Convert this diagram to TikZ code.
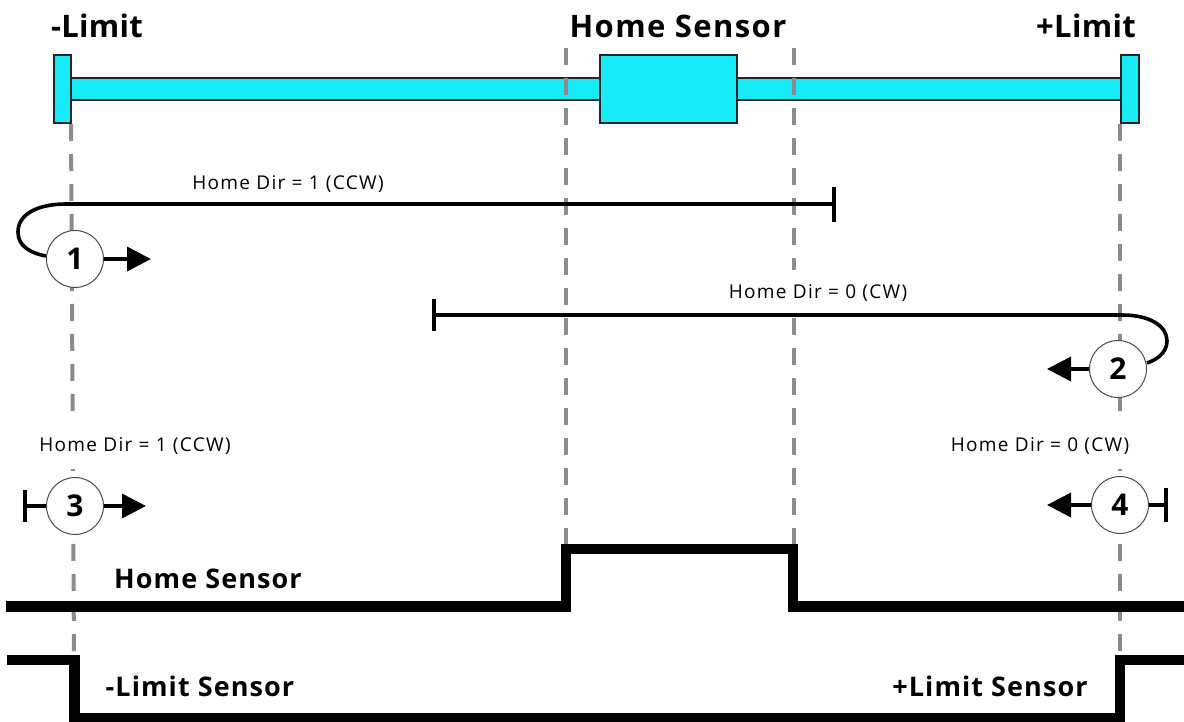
\documentclass[tikz,border=0pt]{standalone}
\usepackage{fontspec}
\setmainfont{Open Sans}
\usetikzlibrary{arrows.meta}
\definecolor{barcyan}{HTML}{17EBF7}
\definecolor{dashgray}{HTML}{8C8C8C}
\tikzset{
  x=1pt,y=-1pt,
  barbox/.style={draw=black!85,line width=1.3pt,fill=barcyan,inner sep=0pt},
  guide/.style={draw=dashgray,line width=4pt,dash pattern=on 17pt off 13pt},
  signal/.style={draw=black,line width=10.5pt,miter limit=10},
  path1/.style={draw=black,line width=3.6pt},
  tick/.style={draw=black,line width=3.6pt},
  move/.style={draw=black,line width=3.6pt,-{Triangle[length=24pt,width=24pt]}},
  num/.style={circle,draw=black!70,line width=1pt,fill=white,minimum size=57pt,inner sep=0pt,font=\fontsize{30}{30}\selectfont\bfseries},
  biglabel/.style={inner sep=0pt,font=\fontsize{31}{31}\selectfont\bfseries\addfontfeature{LetterSpace=4.5}},
  limlabel/.style={inner sep=0pt,font=\fontsize{31}{31}\selectfont\bfseries\addfontfeature{LetterSpace=1}},
  midlabel/.style={inner sep=0pt,font=\fontsize{27}{27}\selectfont\bfseries\addfontfeature{LetterSpace=4}},
  small/.style={inner sep=0pt,fill=white,minimum height=46pt,font=\fontsize{19}{19}\selectfont\addfontfeature{LetterSpace=7}},
}
\begin{document}
\begin{tikzpicture}
\useasboundingbox (0,0) rectangle (1184,722);
% guides
\coordinate (ga) at (71,124); \coordinate (gb) at (74,660);
\coordinate (gc) at (566,48); \coordinate (gd) at (566,545);
\coordinate (ge) at (794,48); \coordinate (gf) at (794,545);
\coordinate (gg) at (1120,124); \coordinate (gh) at (1120,655);
% bar
\node[barbox,minimum width=1050pt,minimum height=22pt] (rod) at (595.5,89) {};
\node[barbox,minimum width=17pt,minimum height=68pt] (stopL) at (62.5,89) {};
\node[barbox,minimum width=18pt,minimum height=68pt] (stopR) at (1130,89) {};
\draw[guide] (gc) -- (gd);
\draw[guide] (ge) -- (gf);
\draw[guide] (ga) -- (gb);
\draw[guide] (gg) -- (gh);
\node[barbox,minimum width=137pt,minimum height=68pt] (carriage) at (668.5,89) {};
% labels
\node[limlabel] (lm) at (97,26) {-Limit};
\node[biglabel] (hs) at (678,26) {Home Sensor};
\node[limlabel] (lp) at (1086,26) {+Limit};
\node[small] (t1) at (288,184) {Home Dir = 1 (CCW)};
\node[small] (t2) at (818,293) {Home Dir = 0 (CW)};
\node[small] (t3) at (135,446) {Home Dir = 1 (CCW)};
\node[small] (t4) at (1040,446) {Home Dir = 0 (CW)};
% numbered circles
\node[num] (n1) at (75,259) {1};
\node[num] (n2) at (1118,369) {2};
\node[num] (n3) at (75,506) {3};
\node[num] (n4) at (1120,505) {4};
% tracks
\coordinate (e1) at (834,204); \coordinate (e1a) at (834,187); \coordinate (e1b) at (834,222);
\coordinate (e2) at (434,315); \coordinate (e2a) at (434,299); \coordinate (e2b) at (434,331);
\draw[path1] (e1) -- (66,204) .. controls (38,204) and (18,214) .. (18,232) .. controls (18,246) and (30,253) .. (n1.west |- 0,256);
\draw[tick] (e1a) -- (e1b);
\draw[path1] (e2) -- (1122,315) .. controls (1150,315) and (1167,326) .. (1167,341) .. controls (1167,353) and (1156,360) .. (n2.east |- 0,363);
\draw[tick] (e2a) -- (e2b);
\coordinate (a1) at (151,259); \coordinate (a2) at (1047,369);
\coordinate (a3) at (146,506); \coordinate (a4) at (1047,505);
\draw[move] (n1.east) -- (a1);
\draw[move] (n2.west) -- (a2);
\draw[move] (n3.east) -- (a3);
\draw[move] (n4.west) -- (a4);
\coordinate (s3) at (25,506); \coordinate (s3a) at (25,490); \coordinate (s3b) at (25,522);
\coordinate (s4) at (1166,505); \coordinate (s4a) at (1166,488); \coordinate (s4b) at (1166,522);
\draw[tick] (n3.west) -- (s3); \draw[tick] (s3a) -- (s3b);
\draw[tick] (n4.east) -- (s4); \draw[tick] (s4a) -- (s4b);
% signals
\coordinate (h0) at (6,606.5); \coordinate (h1) at (566,606.5); \coordinate (h2) at (566,549);
\coordinate (h3) at (793,549); \coordinate (h4) at (793,606.5); \coordinate (h5) at (1184,606.5);
\draw[signal] (h0) -- (h1) -- (h2) -- (h3) -- (h4) -- (h5);
\coordinate (l0) at (7,660); \coordinate (l1) at (74.5,660); \coordinate (l2) at (74.5,718);
\coordinate (l3) at (1120,718); \coordinate (l4) at (1120,660); \coordinate (l5) at (1184,660);
\draw[signal] (l0) -- (l1) -- (l2) -- (l3) -- (l4) -- (l5);
\node[midlabel] (sh) at (208,579) {Home Sensor};
\node[midlabel] (sl) at (200,686) {-Limit Sensor};
\node[midlabel] (sp) at (990,686) {+Limit Sensor};
\end{tikzpicture}
\end{document}
